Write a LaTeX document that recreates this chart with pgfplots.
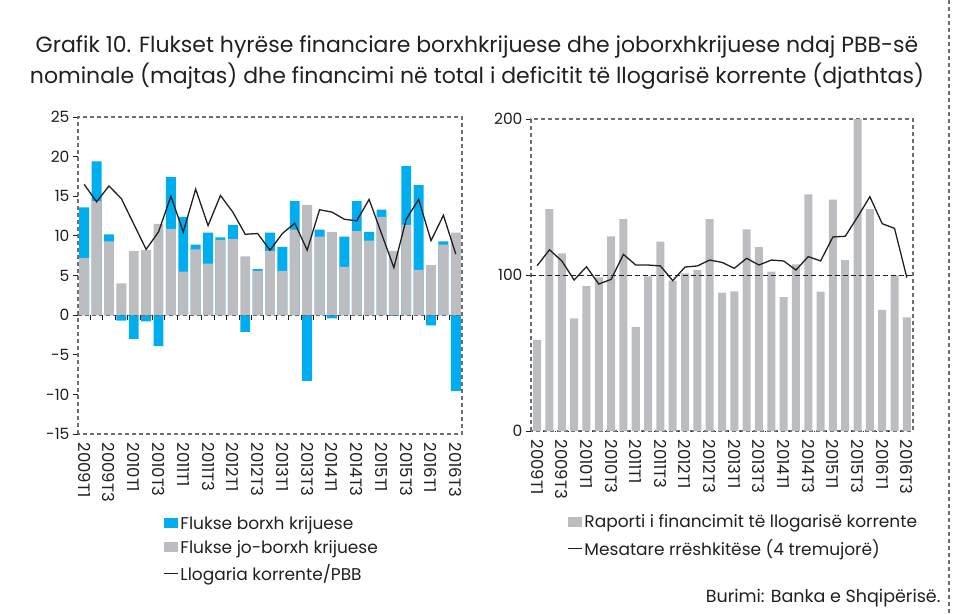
\documentclass[border=0pt]{standalone}
\usepackage{fontspec}
\setmainfont{Poppins}
\usepackage{pgfplots}
\usepackage{pgfplotstable}
\pgfplotsset{compat=1.18}
\definecolor{blu}{HTML}{00AEEF}
\definecolor{gri}{HTML}{BCBDC0}
\definecolor{lin}{HTML}{231F20}
\definecolor{frm}{HTML}{6D6E71}

% c = tremujori, g = jo-borxh, b = borxh, l = llogaria korrente/PBB
\pgfplotstableread{
c g b l
1 7.2 6.4 16.5
2 14.4 5.0 14.3
3 9.3 0.9 16.3
4 4.0 -0.7 14.7
5 8.1 -3.0 11.5
6 8.2 -0.8 8.3
7 11.5 -3.9 10.5
8 10.9 6.5 15.0
9 5.5 6.9 10.5
10 8.3 0.6 15.9
11 6.5 3.9 11.3
12 9.5 0.3 15.1
13 9.6 1.8 13.0
14 7.4 -2.1 10.2
15 5.6 0.2 10.3
16 8.1 2.3 8.2
17 5.6 3.0 10.3
18 10.8 3.6 11.6
19 13.9 -8.3 8.2
20 9.9 0.9 13.3
21 10.5 -0.4 13.0
22 6.1 3.8 12.1
23 10.6 3.8 11.9
24 9.4 1.1 14.6
25 12.4 0.9 10.3
26 8.1 -0.1 6.0
27 11.4 7.4 12.1
28 5.7 10.7 14.6
29 6.3 -1.3 9.4
30 8.9 0.4 12.6
31 10.4 -9.6 7.7
}\datL

% r = raporti, m = mesatare rreshkitese
\pgfplotstableread{
c r m
1 58.5 106.0
2 142.3 116.2
3 113.9 109.0
4 72.2 96.8
5 92.9 105.3
6 98.5 94.2
7 124.8 97.2
8 135.9 113.2
9 66.7 106.4
10 99.1 106.4
11 121.4 105.8
12 96.4 96.4
13 101.1 105.1
14 103.2 105.8
15 135.9 109.6
16 88.7 108.1
17 89.5 104.3
18 129.3 110.7
19 117.9 106.4
20 102.1 109.6
21 85.9 109.0
22 106.8 103.2
23 151.7 111.8
24 89.3 109.0
25 148.3 124.4
26 109.6 124.8
27 200.0 137.2
28 142.3 150.2
29 77.6 132.9
30 99.8 129.9
31 72.9 98.3
}\datR

\pgfplotsset{
  panel/.style={
    scale only axis, axis lines=box,
    axis line style={frm, line width=1.1pt, dash pattern=on 4pt off 3pt},
    xmin=0.5, xmax=31.5,
    xtick={1,3,...,31},
    xticklabels={2009T1,2009T3,2010T1,2010T3,2011T1,2011T3,2012T1,2012T3,2013T1,2013T3,2014T1,2014T3,2015T1,2015T3,2016T1,2016T3},
    x tick style={draw=none},
    xticklabel style={rotate=-90, anchor=west, font=\fontsize{16.5}{16.5}\selectfont, text=lin},
    yticklabel style={font=\fontsize{15.5}{15.5}\selectfont, text=lin},
    ytick pos=left, tick align=outside, major tick length=5pt,
    y tick style={lin, line width=0.8pt},
    /pgf/number format/assume math mode=true,
    legend style={draw=none, fill=none, anchor=north west, inner sep=0pt,
      font=\fontsize{17}{19}\selectfont, row sep=6pt, text=lin},
    legend cell align=left,
  },
}

\begin{document}
\begin{tikzpicture}
\path[use as bounding box] (0pt,0pt) rectangle (953pt,-614pt);
\node[font=\fontsize{22}{31}\selectfont, align=center, text=lin] at (477pt,-63pt)
  {Grafik 10. Flukset hyrëse financiare borxhkrijuese dhe joborxhkrijuese ndaj PBB-së\\
   nominale (majtas) dhe financimi në total i deficitit të llogarisë korrente (djathtas)};

\begin{axis}[panel, at={(78pt,-434pt)}, anchor=south west, width=384pt, height=317pt,
  ymin=-15, ymax=25, ytick={-15,-10,...,25},
  legend style={at={(0.222,-0.252)}}]
\addplot[ybar, bar width=0.8, bar shift=0pt, fill=blu, draw=none,
  legend image code/.code={\fill[blu] (0pt,-4.5pt) rectangle (14pt,5.5pt);}]
  table[x=c, y expr={\thisrow{b}>0 ? \thisrow{g}+\thisrow{b} : \thisrow{b}}]{\datL};
\addlegendentry{Flukse borxh krijuese}
\addplot[ybar, bar width=0.8, bar shift=0pt, fill=gri, draw=none,
  legend image code/.code={\fill[gri] (0pt,-4.5pt) rectangle (14pt,5.5pt);}]
  table[x=c, y=g]{\datL};
\addlegendentry{Flukse jo-borxh krijuese}
\addplot[lin, line width=1.3pt, mark=none, sharp plot,
  legend image code/.code={\draw[lin, line width=1pt] (0pt,0pt) -- (14pt,0pt);}]
  table[x=c, y=l]{\datL};
\addlegendentry{Llogaria korrente/PBB}
\draw[frm, line width=1.1pt, dash pattern=on 4pt off 3pt] (axis cs:0.5,0) -- (axis cs:31.5,0);
\pgfplotsinvokeforeach{1,...,30}{\draw[lin, line width=0.8pt] (axis cs:#1.5,0) -- ([yshift=-5pt]axis cs:#1.5,0);}
\end{axis}

\begin{axis}[panel, at={(531pt,-431pt)}, anchor=south west, width=382pt, height=312pt,
  ymin=0, ymax=200, ytick={0,100,200},
  legend style={at={(0.095,-0.262)}}]
\addplot[ybar, bar width=0.65, bar shift=0pt, fill=gri, draw=none,
  legend image code/.code={\fill[gri] (0pt,-4.5pt) rectangle (14pt,5.5pt);}]
  table[x=c, y=r]{\datR};
\addlegendentry{Raporti i financimit të llogarisë korrente}
\addplot[lin, line width=1.3pt, mark=none, sharp plot,
  legend image code/.code={\draw[lin, line width=1pt] (0pt,0pt) -- (14pt,0pt);}]
  table[x=c, y=m]{\datR};
\addlegendentry{Mesatare rrëshkitëse (4 tremujorë)}
\draw[lin, line width=1pt, dash pattern=on 5pt off 3pt] (axis cs:0.5,100) -- (axis cs:31.5,100);
\pgfplotsinvokeforeach{1,...,30}{\draw[lin, line width=0.8pt] (axis cs:#1.5,0) -- ([yshift=-5pt]axis cs:#1.5,0);}
\end{axis}

\node[anchor=south east, font=\fontsize{17.5}{19}\selectfont, text=lin] at (944pt,-611pt) {Burimi: Banka e Shqipërisë.};
\draw[frm, line width=1.2pt, dash pattern=on 4pt off 3pt] (949pt,0pt) -- (949pt,-614pt);
\end{tikzpicture}
\end{document}
